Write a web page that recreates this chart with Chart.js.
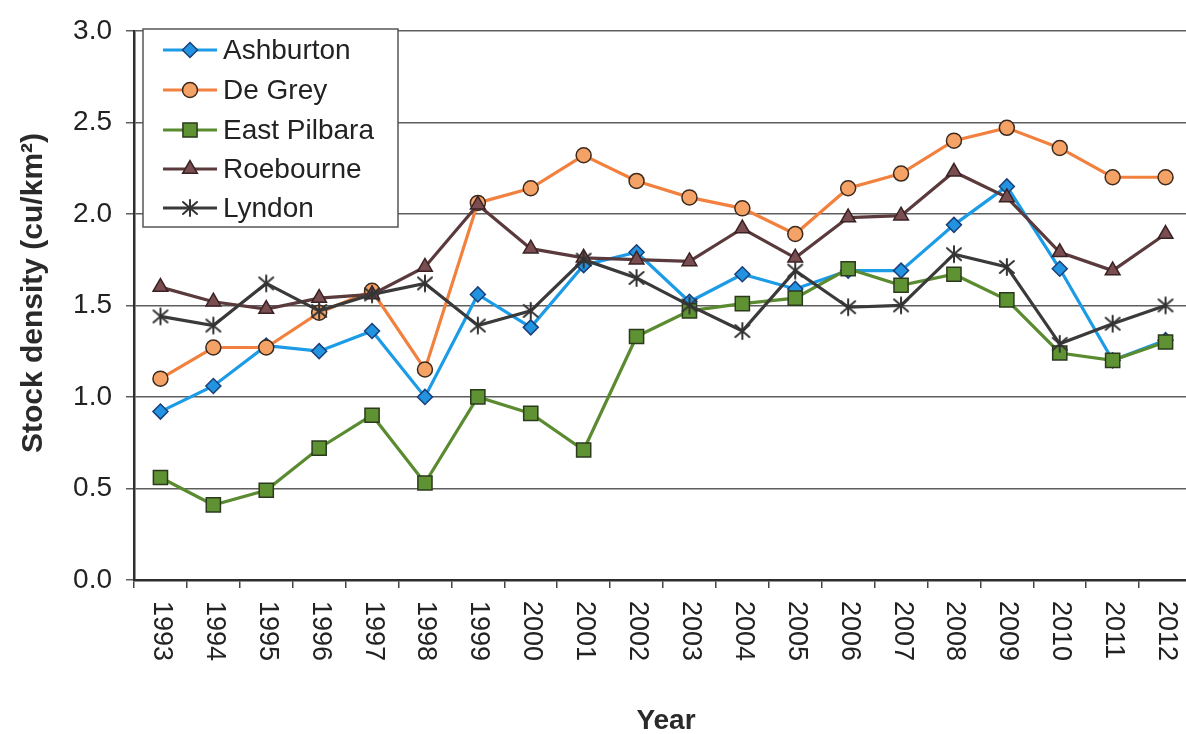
<!DOCTYPE html>
<html>
<head>
<meta charset="utf-8">
<title>Stock density by district, 1993–2012</title>
<script src="https://cdn.jsdelivr.net/npm/chart.js@4.4.1/dist/chart.umd.min.js"></script>
<style>
  html, body { margin: 0; padding: 0; background: #ffffff; overflow: hidden; }
  #chart { display: block; }
</style>
</head>
<body>
<canvas id="chart" width="1192" height="734"></canvas>
<script>
// Survey years (categories)
const years = ['1993','1994','1995','1996','1997','1998','1999','2000','2001','2002',
               '2003','2004','2005','2006','2007','2008','2009','2010','2011','2012'];

// Stock density (cu/km²) per district
const ashburton   = [0.92,1.06,1.28,1.25,1.36,1.00,1.56,1.38,1.72,1.79,1.52,1.67,1.59,1.69,1.69,1.94,2.15,1.70,1.20,1.31];
const deGrey      = [1.10,1.27,1.27,1.46,1.58,1.15,2.06,2.14,2.32,2.18,2.09,2.03,1.89,2.14,2.22,2.40,2.47,2.36,2.20,2.20];
const eastPilbara = [0.56,0.41,0.49,0.72,0.90,0.53,1.00,0.91,0.71,1.33,1.47,1.51,1.54,1.70,1.61,1.67,1.53,1.24,1.20,1.30];
const roebourne   = [1.60,1.52,1.48,1.54,1.56,1.71,2.05,1.81,1.76,1.75,1.74,1.92,1.76,1.98,1.99,2.23,2.09,1.79,1.69,1.89];
const lyndon      = [1.44,1.39,1.62,1.47,1.56,1.62,1.39,1.47,1.75,1.65,1.50,1.36,1.69,1.49,1.50,1.78,1.71,1.29,1.40,1.50];

// Y axis tick values
const yTicks = [0.0, 0.5, 1.0, 1.5, 2.0, 2.5, 3.0];

const FONT = '"Liberation Sans", Arial, sans-serif';

// Asterisk marker (vertical stroke plus an X)
function makeAsterisk(color) {
  const c = document.createElement('canvas');
  c.width = 20; c.height = 20;
  const g = c.getContext('2d');
  g.strokeStyle = color;
  g.lineWidth = 2;
  g.lineCap = 'round';
  g.beginPath();
  g.moveTo(10, 2); g.lineTo(10, 18);
  g.moveTo(3, 4);  g.lineTo(17, 16);
  g.moveTo(17, 4); g.lineTo(3, 16);
  g.stroke();
  return c;
}
const asterisk = makeAsterisk('#333333');

const datasets = [
  { label: 'Ashburton', data: ashburton, borderColor: '#1c9be6', backgroundColor: '#2193e0',
    pointStyle: 'rectRot', pointRadius: 7.5, pointBorderColor: '#1b3f78', order: 5 },
  { label: 'De Grey', data: deGrey, borderColor: '#f2803e', backgroundColor: '#f4a266',
    pointStyle: 'circle', pointRadius: 7.5, pointBorderColor: '#3d2a1e', order: 4 },
  { label: 'East Pilbara', data: eastPilbara, borderColor: '#5b8b30', backgroundColor: '#5f9232',
    pointStyle: 'rect', pointRadius: 10, pointBorderColor: '#2b3a1c', order: 3 },
  { label: 'Roebourne', data: roebourne, borderColor: '#5a3a3c', backgroundColor: '#7a4e50',
    pointStyle: 'triangle', pointRadius: 8.5, pointBorderColor: '#3a2224', order: 2 },
  { label: 'Lyndon', data: lyndon, borderColor: '#3a3a3a', backgroundColor: '#333333',
    pointStyle: asterisk, pointRadius: 9, pointBorderColor: '#333333', order: 1 }
].map(d => Object.assign({
  borderWidth: 3.2,
  pointBorderWidth: 1.5,
  pointBackgroundColor: d.backgroundColor,
  pointHoverRadius: d.pointRadius,
  tension: 0,
  fill: false
}, d));

// Rotated year labels, axis titles and the boxed legend
const annotate = {
  id: 'annotate',
  afterDraw(chart) {
    const ctx = chart.ctx;
    const xs = chart.scales.x;

    // Year labels, reading top to bottom
    ctx.save();
    ctx.fillStyle = '#222222';
    ctx.font = '27px ' + FONT;
    ctx.textAlign = 'left';
    ctx.textBaseline = 'middle';
    years.forEach((yr, i) => {
      const x = xs.getPixelForTick(i);
      ctx.save();
      ctx.translate(x + 1, 601);
      ctx.rotate(Math.PI / 2);
      ctx.fillText(yr, 0, 0);
      ctx.restore();
    });
    ctx.restore();

    // Axis titles
    ctx.save();
    ctx.fillStyle = '#2a2a2a';
    ctx.font = 'bold 28px ' + FONT;
    ctx.textAlign = 'center';
    ctx.textBaseline = 'middle';
    ctx.fillText('Year', 666, 721);
    ctx.font = 'bold 30px ' + FONT;
    ctx.translate(34, 293);
    ctx.rotate(-Math.PI / 2);
    ctx.fillText('Stock density (cu/km²)', 0, 0);
    ctx.restore();

    // Legend box
    const box = { x: 143, y: 29, w: 255, h: 198 };
    ctx.save();
    ctx.fillStyle = '#ffffff';
    ctx.fillRect(box.x, box.y, box.w, box.h);
    ctx.strokeStyle = '#555555';
    ctx.lineWidth = 1.5;
    ctx.strokeRect(box.x, box.y, box.w, box.h);
    const rowY = [50, 90, 130, 169, 208];
    chart.data.datasets.forEach((ds, i) => {
      const y = rowY[i];
      ctx.strokeStyle = ds.borderColor;
      ctx.lineWidth = 3;
      ctx.beginPath();
      ctx.moveTo(163, y);
      ctx.lineTo(217, y);
      ctx.stroke();
      ctx.fillStyle = ds.pointBackgroundColor;
      ctx.strokeStyle = ds.pointBorderColor;
      ctx.lineWidth = ds.pointBorderWidth;
      Chart.helpers.drawPoint(ctx, {
        pointStyle: ds.pointStyle, radius: ds.pointRadius,
        rotation: 0, borderWidth: ds.pointBorderWidth
      }, 190, y);
      ctx.fillStyle = '#222222';
      ctx.font = '28px ' + FONT;
      ctx.textAlign = 'left';
      ctx.textBaseline = 'middle';
      ctx.fillText(ds.label, 223, y + 1);
    });
    ctx.restore();
  }
};

new Chart(document.getElementById('chart'), {
  type: 'line',
  data: { labels: years, datasets },
  options: {
    responsive: false,
    devicePixelRatio: 1,
    animation: false,
    layout: { autoPadding: false, padding: { top: 27, right: 0, bottom: 0, left: 0 } },
    plugins: {
      legend: { display: false },
      tooltip: { enabled: false }
    },
    scales: {
      x: {
        type: 'category',
        offset: true,
        grid: {
          offset: true,
          drawOnChartArea: false,
          drawTicks: true,
          tickLength: 8,
          color: '#444444',
          lineWidth: 1.5
        },
        border: { color: '#2e2e2e', width: 2.5 },
        ticks: { display: false },
        afterFit(scale) { scale.height = 154; }
      },
      y: {
        min: 0,
        max: 3,
        afterBuildTicks(scale) { scale.ticks = yTicks.map(v => ({ value: v })); },
        grid: {
          color: '#5e5e5e',
          lineWidth: 1.5,
          tickLength: 8
        },
        border: { color: '#2e2e2e', width: 2.5 },
        ticks: {
          padding: 14,
          color: '#222222',
          font: { family: FONT, size: 28 },
          callback: v => Number(v).toFixed(1)
        },
        afterFit(scale) { scale.width = 134; }
      }
    }
  },
  plugins: [annotate]
});
</script>
</body>
</html>
